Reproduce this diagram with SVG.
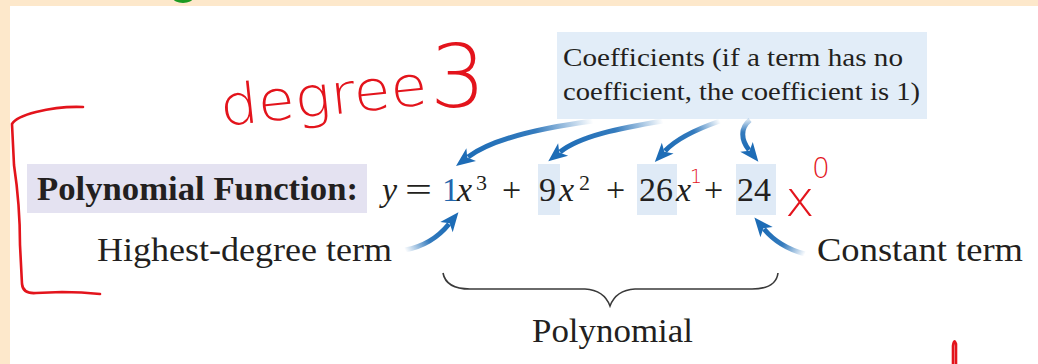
<svg xmlns="http://www.w3.org/2000/svg" width="1038" height="364" viewBox="0 0 1038 364">
  <style>
    .serif { font-family: "Liberation Serif", "Times New Roman", serif; fill: #231f20; }
    .big { font-size: 34px; }
    .it { font-style: italic; }
    .sup { font-size: 22px; }
    .blue1 { fill: #2466ad; }
    .hl { fill: #dfeaf6; }
    .pen { fill: none; stroke: #e3141c; stroke-width: 2.6; stroke-linecap: round; stroke-linejoin: round; }
    .hand { font-family: "DejaVu Sans", "Liberation Sans", sans-serif; fill: #e3141c; font-weight: 200; }
    .arrow { fill: none; stroke-width: 5; stroke-linecap: butt; }
  </style>
  <defs>
    <marker id="head" viewBox="-5 -9 21 18" refX="0" refY="0" markerWidth="21" markerHeight="18" markerUnits="userSpaceOnUse" orient="auto">
      <path d="M 15 0 L -4 -8 L 1 0 L -4 8 Z" fill="#1d6cb6"/>
    </marker>
    <linearGradient id="g1" gradientUnits="userSpaceOnUse" x1="593" y1="121" x2="468" y2="157">
      <stop offset="0" stop-color="#1d6cb6" stop-opacity="0"/>
      <stop offset="0.45" stop-color="#1d6cb6" stop-opacity="0.9"/>
      <stop offset="1" stop-color="#1d6cb6"/>
    </linearGradient>
    <linearGradient id="g2" gradientUnits="userSpaceOnUse" x1="663" y1="121" x2="560" y2="152">
      <stop offset="0" stop-color="#1d6cb6" stop-opacity="0"/>
      <stop offset="0.45" stop-color="#1d6cb6" stop-opacity="0.9"/>
      <stop offset="1" stop-color="#1d6cb6"/>
    </linearGradient>
    <linearGradient id="g3" gradientUnits="userSpaceOnUse" x1="720" y1="121" x2="665" y2="151">
      <stop offset="0" stop-color="#1d6cb6" stop-opacity="0"/>
      <stop offset="0.45" stop-color="#1d6cb6" stop-opacity="0.9"/>
      <stop offset="1" stop-color="#1d6cb6"/>
    </linearGradient>
    <linearGradient id="g4" gradientUnits="userSpaceOnUse" x1="749" y1="120" x2="749" y2="150">
      <stop offset="0" stop-color="#1d6cb6" stop-opacity="0.2"/>
      <stop offset="0.4" stop-color="#1d6cb6" stop-opacity="0.9"/>
      <stop offset="1" stop-color="#1d6cb6"/>
    </linearGradient>
    <linearGradient id="g5" gradientUnits="userSpaceOnUse" x1="405" y1="250" x2="449" y2="224">
      <stop offset="0" stop-color="#1d6cb6" stop-opacity="0"/>
      <stop offset="0.5" stop-color="#1d6cb6" stop-opacity="0.9"/>
      <stop offset="1" stop-color="#1d6cb6"/>
    </linearGradient>
    <linearGradient id="g6" gradientUnits="userSpaceOnUse" x1="805" y1="254" x2="764" y2="229">
      <stop offset="0" stop-color="#1d6cb6" stop-opacity="0"/>
      <stop offset="0.5" stop-color="#1d6cb6" stop-opacity="0.9"/>
      <stop offset="1" stop-color="#1d6cb6"/>
    </linearGradient>
  </defs>

  <!-- page background -->
  <rect x="0" y="0" width="1038" height="364" fill="#fde8cb"/>
  <rect x="10" y="6" width="1028" height="358" fill="#ffffff"/>
  <ellipse cx="183" cy="-2" rx="10" ry="5" fill="#1c9a22"/>

  <!-- label: coefficients -->
  <g id="coefficients-label">
    <rect x="557" y="32" width="370" height="87" fill="#e2edf8"/>
    <text class="serif" x="563" y="66" font-size="26" textLength="340" lengthAdjust="spacingAndGlyphs">Coefficients (if a term has no</text>
    <text class="serif" x="563" y="100" font-size="26" textLength="357" lengthAdjust="spacingAndGlyphs">coefficient, the coefficient is 1)</text>
  </g>

  <!-- label: polynomial function -->
  <g id="function-label">
    <rect x="27" y="164" width="340" height="49" fill="#e4e2f1"/>
    <text class="serif big" x="37" y="200" font-weight="bold" textLength="321" lengthAdjust="spacingAndGlyphs">Polynomial Function:</text>
  </g>

  <!-- equation -->
  <g id="equation">
    <rect class="hl" x="538" y="164" width="22" height="51"/>
    <rect class="hl" x="637" y="164" width="40" height="51"/>
    <rect class="hl" x="736" y="164" width="40" height="51"/>
    <text class="serif big it" x="382" y="201">y</text>
    <text class="serif big" x="405" y="201" textLength="27" lengthAdjust="spacingAndGlyphs">=</text>
    <text class="serif big blue1" x="442" y="201">1</text>
    <text class="serif big it" x="457" y="201">x</text>
    <text class="serif sup" x="476" y="190">3</text>
    <text class="serif big" x="502" y="201">+</text>
    <text class="serif big" x="539" y="201">9</text>
    <text class="serif big it" x="559" y="201">x</text>
    <text class="serif sup" x="579" y="190">2</text>
    <text class="serif big" x="606" y="201">+</text>
    <text class="serif big" x="639" y="201">26</text>
    <text class="serif big it" x="676" y="201">x</text>
    <text class="serif big" x="704" y="201">+</text>
    <text class="serif big" x="737" y="201">24</text>
  </g>

  <!-- label: highest-degree term -->
  <g id="highest-label">
    <text class="serif big" x="97" y="261" textLength="295" lengthAdjust="spacingAndGlyphs">Highest-degree term</text>
  </g>

  <!-- label: constant term -->
  <g id="constant-label">
    <text class="serif big" x="817" y="261" textLength="206" lengthAdjust="spacingAndGlyphs">Constant term</text>
  </g>

  <!-- brace + polynomial label -->
  <g id="polynomial-label">
    <path d="M 443 273 Q 446 289 470 289 L 585 289 Q 604 290 610 306 Q 616 290 635 289 L 752 289 Q 776 289 778 273" fill="none" stroke="#3a3a3a" stroke-width="1.6"/>
    <text class="serif big" x="532" y="342" textLength="161" lengthAdjust="spacingAndGlyphs">Polynomial</text>
  </g>

  <!-- connectors -->
  <g id="connectors">
    <path class="arrow" stroke="url(#g1)" marker-end="url(#head)" d="M 593 121 C 540 128 492 139 468 157"/>
    <path class="arrow" stroke="url(#g2)" marker-end="url(#head)" d="M 663 121 C 620 128 580 136 560 152"/>
    <path class="arrow" stroke="url(#g3)" marker-end="url(#head)" d="M 720 121 C 697 129 677 138 665 151"/>
    <path class="arrow" stroke="url(#g4)" marker-end="url(#head)" d="M 750 120 C 740 128 741 140 749 150"/>
    <path class="arrow" stroke="url(#g5)" marker-end="url(#head)" d="M 405 250 Q 432 245 449 224"/>
    <path class="arrow" stroke="url(#g6)" marker-end="url(#head)" d="M 805 254 Q 779 247 764 229"/>
  </g>

  <!-- red handwritten annotations -->
  <g id="annotations">
    <path class="pen" d="M 83 107 Q 60 106 36 112 Q 16 117 12 124 L 14 165 Q 20 205 20 245 L 22 284 Q 23 294 36 293 L 62 292 Q 82 292 100 294"/>
    <text class="hand" x="222" y="126" font-size="56" textLength="208" lengthAdjust="spacingAndGlyphs" transform="rotate(-6 222 126)">degree</text>
    <text class="hand" x="430" y="107" font-size="88">3</text>
    <text class="hand" x="690" y="183" font-size="19" font-weight="bold">1</text>
    <text class="hand" x="785" y="216" font-size="50">x</text>
    <text class="hand" x="812" y="178" font-size="28">0</text>
    <path class="pen" d="M 953 364 L 953 346 Q 954 338 956 344 L 956 364" stroke-width="3"/>
  </g>
</svg>
